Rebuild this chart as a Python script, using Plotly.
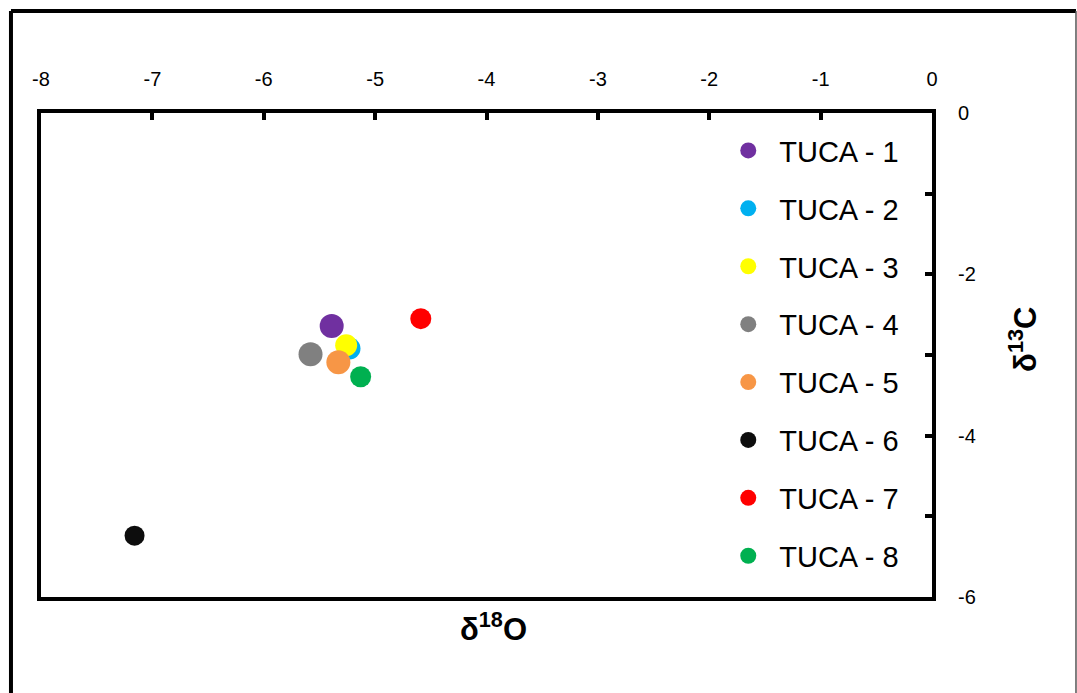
import plotly.graph_objects as go

# Stable isotope values per sample
samples = ["TUCA - 1", "TUCA - 2", "TUCA - 3", "TUCA - 4",
           "TUCA - 5", "TUCA - 6", "TUCA - 7", "TUCA - 8"]
d18O = [-5.39, -5.23, -5.26, -5.58, -5.33, -7.16, -4.59, -5.13]
d13C = [-2.64, -2.92, -2.88, -2.99, -3.09, -5.24, -2.55, -3.27]

# Axis tick positions and their labels (plain hyphen for negatives)
x_ticks = [-8, -7, -6, -5, -4, -3, -2, -1, 0]
x_labels = ["-8", "-7", "-6", "-5", "-4", "-3", "-2", "-1", "0"]
y_ticks = [0, -2, -4, -6]
y_labels = ["0", "-2", "-4", "-6"]

colors = ["#7030A0", "#00B0F0", "#FFFF00", "#808080",
          "#F79646", "#0D0D0D", "#FF0000", "#00B050"]
sizes = [24, 22, 22, 24, 24, 20, 21, 21]

fig = go.Figure()
for name, x, y, c, s in zip(samples, d18O, d13C, colors, sizes):
    fig.add_trace(go.Scatter(
        x=[x], y=[y], mode="markers", name=name, legendgroup=name,
        marker=dict(color=c, size=s, line=dict(width=0)),
    ))

FONT = "Liberation Sans, Arial, sans-serif"
axis_font = dict(family=FONT, size=20, color="#000")

fig.update_layout(
    width=1077, height=693,
    margin=dict(l=41, r=145, t=113, b=96),
    paper_bgcolor="white", plot_bgcolor="white",
    showlegend=True,
    legend=dict(
        x=0.759, xanchor="left", y=0.975, yanchor="top",
        font=dict(family=FONT, size=29, color="#000"),
        itemwidth=52, tracegroupgap=17.2, bgcolor="rgba(0,0,0,0)",
    ),
    xaxis=dict(
        range=[-8, 0], side="top", tickvals=x_ticks, ticktext=x_labels,
        showgrid=False, zeroline=False,
        showline=True, linecolor="#000", linewidth=4, mirror=True,
        ticks="inside", ticklen=7, tickwidth=4, tickcolor="#000",
        tickfont=axis_font, ticklabelstandoff=15,
    ),
    yaxis=dict(
        range=[-6, 0], side="right", tickvals=y_ticks, ticktext=y_labels,
        showgrid=False, zeroline=False,
        showline=True, linecolor="#000", linewidth=4, mirror=True,
        ticks="inside", ticklen=7, tickwidth=4, tickcolor="#000",
        minor=dict(dtick=1, tick0=0, ticks="inside", ticklen=7, tickwidth=4,
                   tickcolor="#000"),
        tickfont=axis_font, ticklabelstandoff=18,
    ),
    annotations=[
        dict(text="<b>δ<sup>18</sup>O</b>", xref="paper", yref="paper",
             x=0.508, y=-0.063, xanchor="center", yanchor="middle", showarrow=False,
             font=dict(family=FONT, size=31, color="#000")),
        dict(text="<b>δ<sup>13</sup>C</b>", xref="paper", yref="paper",
             x=1.102, y=0.533, xanchor="center", yanchor="middle", showarrow=False,
             textangle=-90,
             font=dict(family=FONT, size=31, color="#000")),
    ],
    shapes=[
        # outer frame: left and top edges, light right edge
        dict(type="line", xref="paper", yref="paper", x0=-0.0337, x1=-0.0337,
             y0=-0.3, y1=1.2107, line=dict(color="#000", width=4)),
        dict(type="line", xref="paper", yref="paper", x0=-0.0337, x1=1.1616,
             y0=1.2107, y1=1.2107, line=dict(color="#000", width=4)),
        dict(type="line", xref="paper", yref="paper", x0=1.1616, x1=1.1616,
             y0=-0.3, y1=1.2107, line=dict(color="#555", width=1.5)),
    ],
)

fig.write_html("out.html")
